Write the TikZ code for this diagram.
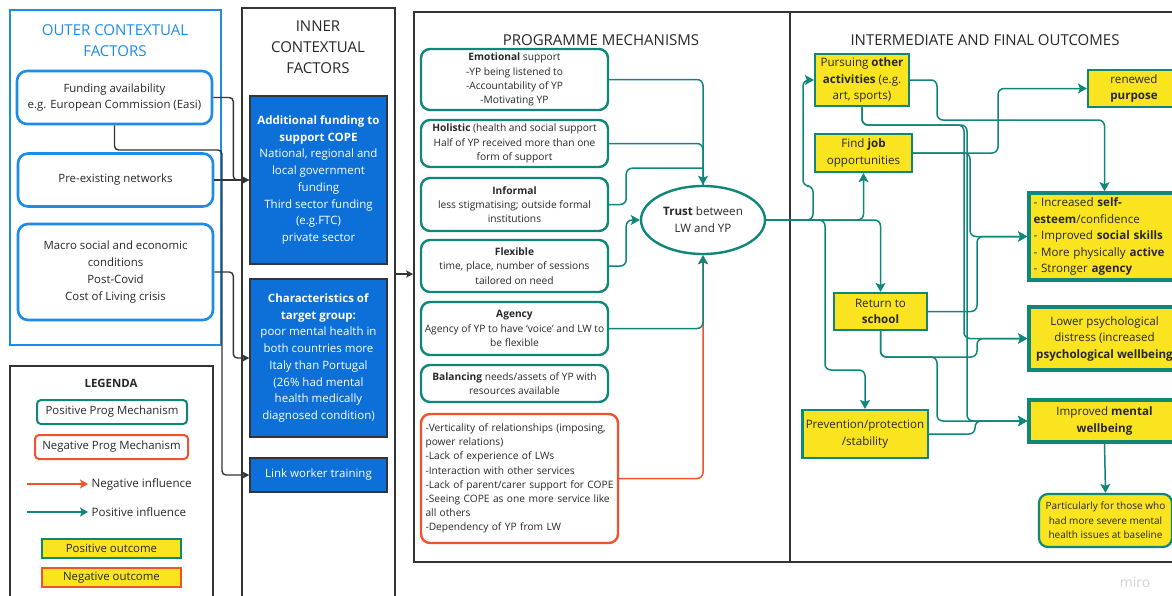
\documentclass[tikz,border=0pt]{standalone}
\usepackage{fontspec}
\setmainfont{Open Sans}
\usetikzlibrary{arrows.meta,shapes.geometric}

\definecolor{cteal}{RGB}{14,134,120}
\definecolor{cred}{RGB}{240,82,44}
\definecolor{cblue}{RGB}{28,140,232}
\definecolor{cibox}{RGB}{12,112,216}
\definecolor{cyellow}{RGB}{250,228,32}
\definecolor{cdark}{RGB}{52,52,52}
\definecolor{ctext}{RGB}{40,40,40}

\tikzset{
  panel/.style={draw=cdark, line width=1.6pt},
  ptitle/.style={align=center, text=ctext, font=\fontsize{15}{21}\selectfont},
  obox/.style={draw=cblue, line width=2.6pt, rounded corners=10pt, align=center, text=ctext,
    font=\fontsize{11.4}{16.8}\selectfont},
  ibox/.style={fill=cibox, draw=cdark, line width=1.2pt, text=white, align=center,
    font=\fontsize{11.5}{16.7}\selectfont},
  mech/.style={draw=cteal, line width=2.4pt, rounded corners=9pt, align=center, text=ctext,
    font=\fontsize{10.2}{14.2}\selectfont},
  outbox/.style={fill=cyellow, draw=cteal, line width=2.2pt, align=center, text=ctext,
    font=\fontsize{11.6}{16.5}\selectfont},
  bigout/.style={outbox, line width=3.6pt},
  legtext/.style={text=ctext, font=\fontsize{11.6}{13}\selectfont},
  darr/.style={draw=cdark, line width=1.4pt, rounded corners=4pt, -{Stealth[length=7pt,width=7pt,inset=1.5pt]}},
  parr/.style={draw=cteal, line width=1.5pt, rounded corners=6pt, -{Stealth[length=9pt,width=10pt,inset=2pt]}},
  pline/.style={draw=cteal, line width=1.5pt, rounded corners=6pt},
  narr/.style={draw=cred, line width=1.5pt, rounded corners=6pt, -{Stealth[length=9pt,width=10pt,inset=2pt]}}
}

\begin{document}
\begin{tikzpicture}[x=1pt,y=-1pt]
\useasboundingbox (0,0) rectangle (1172,595);

% panels
\node[panel, draw=cblue, line width=2.6pt, minimum width=211pt, minimum height=335pt] (outer) at (115.5,177.5) {};
\node[panel, minimum width=203pt, minimum height=250pt] (legend) at (111.5,491) {};
\node[panel, minimum width=153pt, minimum height=612pt] (inner) at (318.5,314) {};
\node[panel, minimum width=376pt, minimum height=550pt] (prog) at (602,287) {};
\node[panel, minimum width=395pt, minimum height=550pt] (outc) at (987.5,287) {};

\node[ptitle, text=cblue] (outertitle) at (115,41) {OUTER CONTEXTUAL\\FACTORS};
\node[ptitle] (innertitle) at (318,47) {INNER\\CONTEXTUAL\\FACTORS};
\node[ptitle] (progtitle) at (601,40) {PROGRAMME MECHANISMS};
\node[ptitle] (outctitle) at (985,40) {INTERMEDIATE AND FINAL OUTCOMES};

% outer contextual factors
\begin{scope}[every node/.style={obox}]
  \node[minimum width=195pt, minimum height=53pt] (fund) at (114.5,97.5) {Funding availability\\e.g. European Commission (Easi)};
  \node[minimum width=195pt, minimum height=53pt] (prenet) at (115.5,180) {Pre-existing networks};
  \node[minimum width=195pt, minimum height=96pt] (macro) at (115.5,272) {Macro social and economic\\conditions\\Post-Covid\\Cost of Living crisis};
\end{scope}

% legend
\node[text=ctext, font=\fontsize{11.4}{13}\selectfont\bfseries] (legtitle) at (111,383) {LEGENDA};
\node[mech, rounded corners=4pt, line width=2pt, minimum width=150pt, minimum height=24pt, font=\fontsize{11.4}{13}\selectfont] (legpos) at (112,412) {Positive Prog Mechanism};
\node[mech, draw=cred, rounded corners=4pt, line width=2pt, minimum width=153pt, minimum height=24pt, font=\fontsize{11.4}{13}\selectfont] (legneg) at (111.5,447) {Negative Prog Mechanism};
\node[legtext, anchor=west] (legnegarr) at (88,484) {Negative influence};
\node[legtext, anchor=west] (legposarr) at (88,512) {Positive influence};
\coordinate (negtail) at (27,484);
\coordinate (postail) at (27,512);
\draw[narr, -{Stealth[length=8pt,width=9pt,inset=2pt]}] (negtail) -- (legnegarr.west);
\draw[parr, -{Stealth[length=8pt,width=9pt,inset=2pt]}] (postail) -- (legposarr.west);
\node[outbox, minimum width=139pt, minimum height=19pt, font=\fontsize{11.4}{13}\selectfont] (legposout) at (111.5,548.5) {Positive outcome};
\node[outbox, draw=cred, minimum width=139pt, minimum height=19pt, font=\fontsize{11.4}{13}\selectfont] (legnegout) at (111.5,577.5) {Negative outcome};

% inner contextual factors
\begin{scope}[every node/.style={ibox, minimum width=137pt}]
  \node[minimum height=168pt] (addfund) at (318.5,180) {\textbf{Additional funding to}\\\textbf{support COPE}\\National, regional and\\local government\\funding\\Third sector funding\\(e.g.FTC)\\private sector};
  \node[minimum height=158pt] (chars) at (318.5,358) {\textbf{Characteristics of}\\\textbf{target group:}\\poor mental health in\\both countries more\\Italy than Portugal\\(26\% had mental\\health medically\\diagnosed condition)};
  \node[minimum height=34pt] (lwtrain) at (318.5,475) {Link worker training};
\end{scope}

% programme mechanisms
\begin{scope}[every node/.style={mech, minimum width=187pt}]
  \node[minimum height=61pt] (emo) at (514.5,79.5) {\textbf{Emotional} support\\-YP being listened to\\-Accountability of YP\\-Motivating YP};
  \node[minimum height=47pt] (holi) at (514.5,143.5) {\textbf{Holistic} (health and social support\\Half of YP received more than one\\form of support};
  \node[minimum height=53pt] (infor) at (514.5,204.5) {\textbf{Informal}\\less stigmatising; outside formal\\institutions};
  \node[minimum height=52pt] (flex) at (514.5,266) {\textbf{Flexible}\\time, place, number of sessions\\tailored on need};
  \node[minimum height=53pt] (agen) at (514.5,328.5) {\textbf{Agency}\\Agency of YP to have `voice' and LW to\\be flexible};
  \node[minimum height=37pt] (bal) at (514.5,383.5) {\textbf{Balancing} needs/assets of YP with\\resources available};
\end{scope}
\node[mech, draw=cred, align=left, text width=188pt, minimum width=197pt, minimum height=129pt] (negmech) at (519.5,478.5) {-Verticality of relationships (imposing,\\power relations)\\-Lack of experience of LWs\\-Interaction with other services\\-Lack of parent/carer support for COPE\\-Seeing COPE as one more service like\\all others\\-Dependency of YP from LW};
\node[ellipse, draw=cteal, line width=2.4pt, minimum width=124pt, minimum height=68pt, align=center, text=ctext, font=\fontsize{11.6}{17}\selectfont] (trust) at (703,220) {\textbf{Trust} between\\LW and YP};

% outcomes
\begin{scope}[every node/.style={outbox}]
  \node[minimum width=94pt, minimum height=52pt] (pursue) at (862,80) {Pursuing \textbf{other}\\\textbf{activities} (e.g.\\art, sports)};
  \node[minimum width=97pt, minimum height=38pt] (findjob) at (863.5,153) {Find \textbf{job}\\opportunities};
  \node[minimum width=93pt, minimum height=37pt] (school) at (880.5,311.5) {Return to\\\textbf{school}};
  \node[minimum width=124pt, minimum height=48pt] (prevent) at (865,434) {Prevention/protection\\/stability};
  \node[minimum width=92pt, minimum height=37pt] (purpose) at (1134,88.5) {renewed\\\textbf{purpose}};
\end{scope}
\begin{scope}[every node/.style={bigout, minimum width=151pt}]
  \node[minimum height=87pt, align=left, text width=142pt] (selfest) at (1104.5,236.5) {- Increased \textbf{self-}\\\textbf{esteem}/confidence\\- Improved \textbf{social skills}\\- More physically \textbf{active}\\- Stronger \textbf{agency}};
  \node[minimum height=63pt] (lowpsy) at (1104.5,338.5) {Lower psychological\\distress (increased\\\textbf{psychological wellbeing}};
  \node[minimum height=42pt] (mental) at (1104.5,421) {Improved \textbf{mental}\\\textbf{wellbeing}};
\end{scope}
\node[outbox, rounded corners=9pt, minimum width=133pt, minimum height=53pt, font=\fontsize{10}{14.5}\selectfont] (partic) at (1105.5,520.5) {Particularly for those who\\had more severe mental\\health issues at baseline};

\node[text=black!18, font=\fontsize{14}{14}\selectfont] (miro) at (1135,582) {miro};

% outer -> inner
\draw[darr] (fund.east) -- ++(20,0) |- (addfund.west);
\draw[darr] (prenet.east) -- (addfund.west);
\draw[darr] (macro.east) -- ++(19,0) |- (chars.west);
\draw[darr] (fund.south) |- (222,150) |- (lwtrain.west);
\draw[darr] (inner.east |- 0,274) -- (prog.west |- 0,274);

% mechanisms -> trust
\draw[narr] (negmech.east) -| (trust.south);
\draw[pline] (holi.east) -| (trust.north);
\draw[pline] (infor.east) -- ++(17,0) |- (trust.north |- holi.south);
\draw[parr] (emo.east) -| (trust.north);
\draw[parr] (flex.east) -- ++(17,0) |- (trust.west);
\draw[parr] (agen.east) -| (trust.south);

% trust -> intermediate outcomes
\draw[parr] (trust.east) -- (813,220) -- (813,186) -- (803,186) |- (pursue.west);
\draw[parr] (trust.east) -| (findjob.south);
\draw[parr] (trust.east) -- (825,220) -- (825,370) -| (prevent.north);
\draw[parr] (trust.east) -| (school.north);

% intermediate -> final outcomes
\draw[parr] (pursue.east) -- (937,80) -- (937,120) -| (selfest.north);
\draw[parr] (pursue.south) |- (964,125) |- (lowpsy.west);
\draw[parr] (pursue.south) |- (967,125) |- (mental.west);
\draw[parr] (findjob.east) -- (998,153) |- (purpose.west);
\draw[parr] (findjob.east) -- (970,153) |- (selfest.west);
\draw[parr] (school.east) -- (977,311.5) |- (selfest.west);
\draw[parr] (school.south) |- (977,357) |- (lowpsy.west);
\draw[parr] (school.south) |- (937,357) |- (mental.west);
\draw[parr] (prevent.east) -- (975,434) |- (mental.west);
\draw[parr] (mental.south) -- (partic.north);
\end{tikzpicture}
\end{document}
